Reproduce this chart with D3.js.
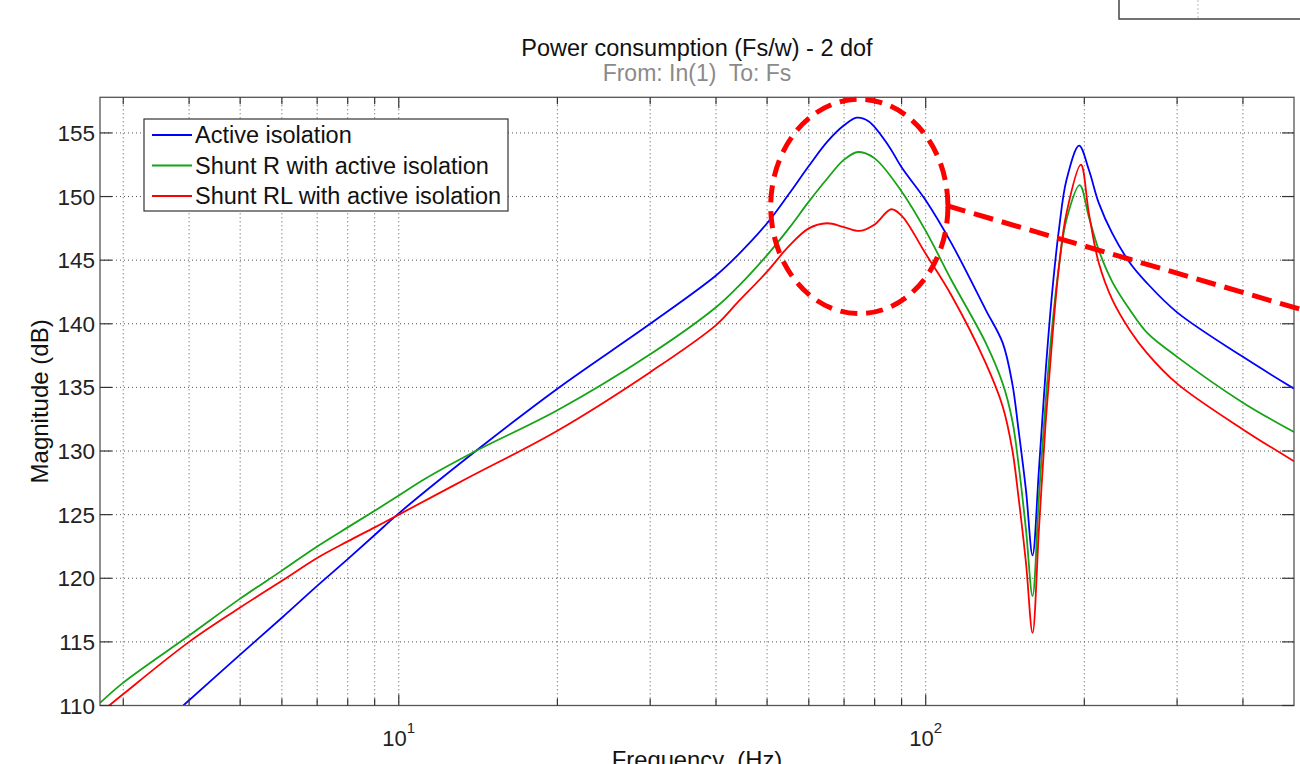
<!DOCTYPE html>
<html>
<head>
<meta charset="utf-8">
<script src="https://cdn.jsdelivr.net/npm/d3@7"></script>
<style>
  body { margin: 0; background: #fff; }
  text { font-family: "Liberation Sans", Arial, sans-serif; }
</style>
</head>
<body>
<div id="chart"></div>
<script>
// values (Hz, dB)
const freqBlue = [3.9, 5, 6, 7, 8, 9, 10, 14, 20, 30, 40, 44, 50, 55, 60, 65, 70, 74, 78, 85, 90, 100, 112, 130, 140, 146, 150, 155, 159.5, 164, 169, 174, 179, 185, 195.5, 204, 213, 226, 244, 263, 300, 400, 500];
const magBlue = [110.0, 114.0, 116.9, 119.4, 121.5, 123.4, 125.1, 130.0, 134.9, 140.0, 143.8, 145.4, 147.9, 150.2, 152.4, 154.3, 155.6, 156.2, 155.9, 154.0, 152.3, 149.7, 146.3, 141.1, 138.5, 135.3, 131.7, 126.9, 121.8, 128.5, 136.4, 142.7, 147.4, 151.3, 154.0, 152.1, 149.5, 147.1, 144.8, 143.2, 140.9, 137.4, 134.9];

const freqGreen = [2.71, 3, 4, 5, 6, 7, 8, 9, 10, 11.2, 14, 20, 30, 40, 44, 50, 55, 60, 65, 70, 74.5, 80, 90, 100, 112, 130, 140, 146, 150, 155, 159.5, 164, 169, 174, 179, 185, 196, 204, 213, 226, 244, 263, 300, 400, 500];
const magGreen = [110.2, 111.8, 115.5, 118.4, 120.6, 122.5, 124.0, 125.3, 126.5, 127.8, 130.0, 133.2, 137.6, 141.3, 142.9, 145.4, 147.5, 149.6, 151.4, 152.9, 153.5, 153.0, 150.4, 147.3, 143.4, 138.5, 135.3, 132.4, 129.0, 123.8, 118.6, 126.4, 134.0, 140.0, 144.5, 148.2, 150.9, 148.4, 145.8, 143.3, 141.1, 139.3, 137.4, 133.8, 131.5];

const freqRed = [2.71, 3, 4, 5, 6, 7, 8, 9, 10, 13.4, 20, 30, 40, 44, 50, 55, 60, 65, 70, 75, 80, 86, 90, 100, 112, 130, 140, 146, 150, 155, 159.5, 164, 169, 174, 179, 185, 197, 204, 213, 226, 244, 263, 300, 400, 500];
const magRed = [109.4, 110.9, 115.0, 117.7, 119.8, 121.6, 122.9, 124.0, 125.0, 127.8, 131.6, 136.2, 139.9, 141.7, 144.1, 146.1, 147.5, 147.9, 147.6, 147.3, 147.8, 149.0, 148.5, 145.5, 142.2, 136.9, 133.5, 130.1, 126.4, 121.2, 115.7, 123.8, 132.4, 139.0, 144.5, 148.7, 152.5, 148.7, 144.8, 141.9, 139.5, 137.7, 135.3, 131.7, 129.2];

const seriesNames = ["Active isolation", "Shunt R with active isolation", "Shunt RL with active isolation"];
const seriesColors = ["#0000ff", "#16a316", "#ff0000"];

const yTicks = [110, 115, 120, 125, 130, 135, 140, 145, 150, 155];
const xGridTicks = [3, 4, 5, 6, 7, 8, 9, 10, 20, 30, 40, 50, 60, 70, 80, 90, 100, 200, 300, 400];
const xMajorTicks = [10, 100];
const xMajorExp = ["1", "2"];

// annotation: dashed ellipse round the first peak and a pointer line (data units)
const ellipseFreq = [50.8, 110.2];
const ellipseMag = [140.8, 157.65];
const pointerFreq = [109.3, 513];
const pointerMag = [149.3, 141.15];

const width = 1300;
const height = 764;
const margin = { top: 97.3, right: 6, bottom: 58.5, left: 100 };

const svg = d3.select("#chart")
  .append("svg")
  .attr("width", width)
  .attr("height", height);

const x = d3.scaleLog()
  .domain([2.71, 500])
  .range([margin.left, width - margin.right]);

const y = d3.scaleLinear()
  .domain([110, 157.8])
  .range([height - margin.bottom, margin.top]);

const x0 = x.range()[0], x1 = x.range()[1];
const y0 = y.range()[0], y1 = y.range()[1];

// fragment of the figure above (top right corner)
svg.append("rect")
  .attr("x", 1119).attr("y", -10)
  .attr("width", 200).attr("height", 29)
  .attr("fill", "none")
  .attr("stroke", "#444")
  .attr("stroke-width", 1.5);
svg.append("line")
  .attr("x1", 1198).attr("x2", 1198)
  .attr("y1", 0).attr("y2", 18)
  .attr("stroke", "#bbb")
  .attr("stroke-dasharray", "2,2");

// grid
svg.append("g")
  .selectAll("line")
  .data(xGridTicks)
  .enter()
  .append("line")
  .attr("x1", d => x(d)).attr("x2", d => x(d))
  .attr("y1", y1).attr("y2", y0)
  .attr("stroke", "#555")
  .attr("stroke-width", 1)
  .attr("stroke-dasharray", "1,3");

svg.append("g")
  .selectAll("line")
  .data(yTicks.slice(1))
  .enter()
  .append("line")
  .attr("x1", x0).attr("x2", x1)
  .attr("y1", d => y(d)).attr("y2", d => y(d))
  .attr("stroke", "#555")
  .attr("stroke-width", 1)
  .attr("stroke-dasharray", "1,3");

// curves
svg.append("clipPath")
  .attr("id", "plot-clip")
  .append("rect")
  .attr("x", x0).attr("y", y1)
  .attr("width", x1 - x0).attr("height", y0 - y1);

const series = [
  { freq: freqBlue, mag: magBlue },
  { freq: freqGreen, mag: magGreen },
  { freq: freqRed, mag: magRed }
];

const lineGenerator = d3.line()
  .x(d => x(d[0]))
  .y(d => y(d[1]))
  .curve(d3.curveCatmullRom.alpha(0.5));

series.forEach((s, i) => {
  svg.append("path")
    .datum(s.freq.map((f, j) => [f, s.mag[j]]))
    .attr("clip-path", "url(#plot-clip)")
    .attr("fill", "none")
    .attr("stroke", seriesColors[i])
    .attr("stroke-width", 1.8)
    .attr("d", lineGenerator);
});

// axes box and ticks
svg.append("rect")
  .attr("x", x0).attr("y", y1)
  .attr("width", x1 - x0).attr("height", y0 - y1)
  .attr("fill", "none")
  .attr("stroke", "#555")
  .attr("stroke-width", 1.3);

const ticks = svg.append("g").attr("stroke", "#333").attr("stroke-width", 1.2);
yTicks.forEach(t => {
  ticks.append("line").attr("x1", x0).attr("x2", x0 + 12).attr("y1", y(t)).attr("y2", y(t));
  ticks.append("line").attr("x1", x1).attr("x2", x1 - 12).attr("y1", y(t)).attr("y2", y(t));
});
xGridTicks.forEach(t => {
  const len = xMajorTicks.includes(t) ? 11 : 7;
  ticks.append("line").attr("x1", x(t)).attr("x2", x(t)).attr("y1", y0).attr("y2", y0 - len);
  ticks.append("line").attr("x1", x(t)).attr("x2", x(t)).attr("y1", y1).attr("y2", y1 + len);
});

// tick labels
svg.append("g")
  .selectAll("text")
  .data(yTicks)
  .enter()
  .append("text")
  .attr("x", x0 - 5)
  .attr("y", d => y(d) + 8)
  .attr("text-anchor", "end")
  .attr("font-size", 22.5)
  .attr("fill", "#222")
  .text(d => d);

xMajorTicks.forEach((t, i) => {
  const lbl = svg.append("text")
    .attr("x", x(t))
    .attr("y", 746)
    .attr("text-anchor", "middle")
    .attr("font-size", 22)
    .attr("fill", "#222");
  lbl.append("tspan").text("10");
  lbl.append("tspan").attr("dy", -13).attr("font-size", 15).text(xMajorExp[i]);
});

// titles
svg.append("text")
  .attr("x", (x0 + x1) / 2)
  .attr("y", 56)
  .attr("text-anchor", "middle")
  .attr("font-size", 23.5)
  .attr("fill", "#111")
  .text("Power consumption (Fs/w) - 2 dof");

svg.append("text")
  .attr("x", (x0 + x1) / 2)
  .attr("y", 80.5)
  .attr("text-anchor", "middle")
  .attr("font-size", 23)
  .attr("fill", "#8a8a8a")
  .style("white-space", "pre")
  .text("From: In(1)  To: Fs");

svg.append("text")
  .attr("x", (x0 + x1) / 2)
  .attr("y", 768)
  .attr("text-anchor", "middle")
  .attr("font-size", 23.8)
  .attr("fill", "#111")
  .style("white-space", "pre")
  .text("Frequency  (Hz)");

svg.append("text")
  .attr("transform", "rotate(-90)")
  .attr("x", -(y0 + y1) / 2)
  .attr("y", 48)
  .attr("text-anchor", "middle")
  .attr("font-size", 24)
  .attr("fill", "#111")
  .text("Magnitude (dB)");

// legend
const legend = svg.append("g").attr("transform", "translate(144,119)");
legend.append("rect")
  .attr("width", 364).attr("height", 92)
  .attr("fill", "#fff")
  .attr("stroke", "#333")
  .attr("stroke-width", 1.2);
seriesNames.forEach((name, i) => {
  const ly = 16 + i * 30.5;
  legend.append("line")
    .attr("x1", 8).attr("x2", 48)
    .attr("y1", ly).attr("y2", ly)
    .attr("stroke", seriesColors[i])
    .attr("stroke-width", 1.8);
  legend.append("text")
    .attr("x", 51)
    .attr("y", ly + 8)
    .attr("font-size", 23.5)
    .attr("fill", "#111")
    .text(name);
});

// annotation
const ex0 = x(ellipseFreq[0]), ex1 = x(ellipseFreq[1]);
const ey0 = y(ellipseMag[0]), ey1 = y(ellipseMag[1]);
svg.append("ellipse")
  .attr("cx", (ex0 + ex1) / 2)
  .attr("cy", (ey0 + ey1) / 2)
  .attr("rx", (ex1 - ex0) / 2)
  .attr("ry", (ey0 - ey1) / 2)
  .attr("fill", "none")
  .attr("stroke", "#ff0000")
  .attr("stroke-width", 5)
  .attr("stroke-dasharray", "17,9");

svg.append("line")
  .attr("x1", x(pointerFreq[0])).attr("y1", y(pointerMag[0]))
  .attr("x2", x(pointerFreq[1])).attr("y2", y(pointerMag[1]))
  .attr("stroke", "#ff0000")
  .attr("stroke-width", 5)
  .attr("stroke-dasharray", "20,9");
</script>
</body>
</html>
